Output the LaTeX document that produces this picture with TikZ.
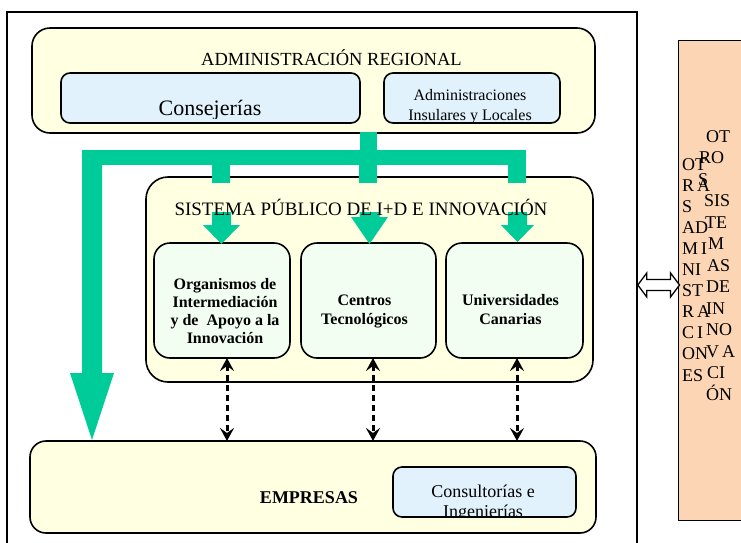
\documentclass[tikz,border=0pt]{standalone}
\usepackage{fontspec}
\setmainfont{Liberation Serif}
\usetikzlibrary{arrows.meta,calc}
\definecolor{yfill}{HTML}{FFFFE1}
\definecolor{bfill}{HTML}{E1F2FD}
\definecolor{gfill}{HTML}{F1FEF1}
\definecolor{tealbar}{HTML}{00CC99}
\definecolor{peach}{HTML}{FCD5B4}
\newcommand\fsz[2]{\fontsize{#1}{#2}\selectfont}
% green block arrow: tip, shaft half width, head half width, head length, total length
\newcommand\garrow[5]{\fill[tealbar] ($(#1)+(-#2,-#5)$) -- ($(#1)+(#2,-#5)$) -- ($(#1)+(#2,-#4)$) -- ($(#1)+(#3,-#4)$) -- (#1) -- ($(#1)+(-#3,-#4)$) -- ($(#1)+(-#2,-#4)$) -- cycle;}
\begin{document}
\begin{tikzpicture}[x=1pt,y=-1pt,
  panel/.style={draw=black, line width=1.6pt, inner sep=0pt, outer sep=0pt},
  txt/.style={inner sep=0pt, outer sep=0pt, anchor=base},
  sidetxt/.style={inner sep=0pt, anchor=base west, font=\fsz{18}{18}},
  dasharrow/.style={line width=3pt, dash pattern=on 6pt off 4pt,
     {Stealth[length=13pt,width=14pt,inset=5pt]}-{Stealth[length=13pt,width=14pt,inset=5pt]}}]
\useasboundingbox (0,0) rectangle (741,542);
\fill[white] (0,0) rectangle (741,542);

% outer frame and right box
\node[draw, line width=1.5pt, inner sep=0pt, minimum width=630pt, minimum height=560pt] (frame) at (322,292) {};
\node[draw, line width=1pt, fill=peach, inner sep=0pt, minimum width=120pt, minimum height=480pt] (otros) at (738,280) {};
\coordinate (dl) at ($(frame.east)+(0,-7)$);
\coordinate (dr) at ($(otros.west)+(2,5)$);
\filldraw[fill=white, draw=black, line width=1.3pt, line join=miter]
  (dl) -- ($(dl)+(9,-12)$) -- ($(dl)+(9,-5.5)$) -- ($(dr)+(-9,-5.5)$) -- ($(dr)+(-9,-12)$) -- (dr)
  -- ($(dr)+(-9,12)$) -- ($(dr)+(-9,5.5)$) -- ($(dl)+(9,5.5)$) -- ($(dl)+(9,12)$) -- cycle;

% right box texts
\foreach \t [count=\i from 0] in {OT,R\,A,S,AD,M\,I,NI,ST,R\,A,C\,I,ON,ES}
  \node[sidetxt] (ol\i) at (682,{170+21.1*\i}) {\t};
\foreach \xx/\t [count=\i from 0] in {706/OT,699/RO,698/S,704/SIS,705/TE,708/M,707/AS,706/DE,706/IN,706/NO,706/V\,A,707/CI,706/ÓN}
  \node[sidetxt] (or\i) at (\xx,{142+21.5*\i}) {\t};

% administracion regional
\node[panel, fill=yfill, rounded corners=18pt, minimum width=563pt, minimum height=105pt] (adm) at (313.5,80.5) {};
\node[txt, font=\fsz{18.5}{21}] (admt) at (331.5,65) {ADMINISTRACIÓN REGIONAL};
\node[panel, fill=bfill, rounded corners=9pt, minimum width=299pt, minimum height=50pt] (cons) at (210.5,98) {};
\node[panel, fill=bfill, rounded corners=9pt, minimum width=176pt, minimum height=50pt] (insu) at (472,98) {};
\begin{scope}
  \clip ($(cons.north west)+(0,2)$) rectangle ($(cons.south east)+(0,-5)$);
  \node[txt, font=\fsz{22}{24}] (const) at (210,115) {Consejerías};
\end{scope}
\begin{scope}
  \clip ($(insu.north west)+(0,2)$) rectangle ($(insu.south east)+(0,-2)$);
  \node[txt, font=\fsz{16}{19}] (insu1) at (470,100) {Administraciones};
  \node[txt, font=\fsz{16}{19}] (insu2) at (470,120) {Insulares y Locales};
\end{scope}

% green bars
\coordinate (s0) at (368.5,0);
\fill[tealbar] ($(adm.south -| s0)+(-8.5,-1)$) rectangle ($(adm.south -| s0)+(8.5,17)$);
\fill[tealbar] (82,150) rectangle (526,165);
\coordinate (bt) at (92,440);
\garrow{bt}{10}{22}{67}{290}

% sistema publico
\node[panel, fill=yfill, rounded corners=22pt, minimum width=447pt, minimum height=205pt] (spid) at (369.5,279.5) {};
\fill[tealbar] (212,164) rectangle (230,183);
\fill[tealbar] (359,164) rectangle (377,183);
\fill[tealbar] (508,164) rectangle (526,183);

\node[panel, fill=gfill, rounded corners=16pt, minimum width=136pt, minimum height=115pt] (org) at (222,300.5) {};
\node[panel, fill=gfill, rounded corners=16pt, minimum width=135pt, minimum height=115pt] (cen) at (368.5,300.5) {};
\node[panel, fill=gfill, rounded corners=16pt, minimum width=137pt, minimum height=115pt] (uni) at (514.5,300.5) {};

\coordinate (t1) at ($(org.north)+(-0.5,1)$);
\coordinate (t2) at ($(cen.north)+(1,1)$);
\coordinate (t3) at ($(uni.north)+(3,-1)$);
\garrow{t1}{9.5}{18.5}{19}{32}
\garrow{t2}{10}{18.5}{27}{32}
\garrow{t3}{9.5}{16.5}{17}{30}

\node[txt, font=\fsz{19}{21}] (spidt) at (361,215) {SISTEMA PÚBLICO DE I+D E INNOVACIÓN};

\begin{scope}[every node/.style={txt, font=\fsz{16}{18}\bfseries}]
  \node (org1) at (225,289) {Organismos de};
  \node (org2) at (225,307) {Intermediación};
  \node (org3) at (225,325) {y de\ \ Apoyo a la};
  \node (org4) at (225,343) {Innovación};
  \node (cen1) at (364.5,305) {Centros};
  \node (cen2) at (364.5,324) {Tecnológicos};
  \node (uni1) at (510.5,305) {Universidades};
  \node (uni2) at (510.5,324) {Canarias};
\end{scope}

% empresas
\node[panel, fill=yfill, rounded corners=16pt, minimum width=566pt, minimum height=92pt] (emp) at (313,487) {};
\node[txt, font=\fsz{18}{20}\bfseries] (empt) at (309,503) {EMPRESAS};
\node[panel, fill=bfill, rounded corners=9pt, minimum width=183pt, minimum height=50pt] (cons2) at (484.5,492) {};
\begin{scope}
  \clip ($(cons2.north west)+(0,2)$) rectangle ($(cons2.south east)+(0,-1.5)$);
  \node[txt, font=\fsz{18}{20}] (cons2a) at (483,497) {Consultorías e};
  \node[txt, font=\fsz{18}{20}] (cons2b) at (483,517) {Ingenierías};
\end{scope}

% dashed links
\coordinate (d1) at (227,0);
\coordinate (d2) at (373,0);
\coordinate (d3) at (517,0);
\draw[dasharrow] (org.south -| d1) -- (emp.north -| d1);
\draw[dasharrow] (cen.south -| d2) -- (emp.north -| d2);
\draw[dasharrow] (uni.south -| d3) -- (emp.north -| d3);
\end{tikzpicture}
\end{document}
